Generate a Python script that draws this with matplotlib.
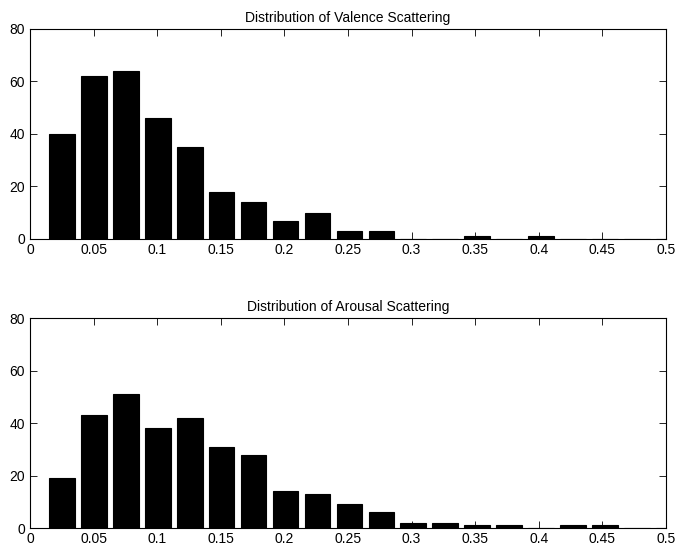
import numpy as np
import matplotlib
matplotlib.use("Agg")
import matplotlib.pyplot as plt

plt.rcParams['font.family'] = ['Liberation Sans', 'DejaVu Sans']

# bin centres of the 20-bin histograms
bin_centers = [0.0252, 0.0503, 0.0754, 0.1005, 0.1256, 0.1507, 0.1758, 0.2009,
               0.2260, 0.2511, 0.2762, 0.3013, 0.3264, 0.3515, 0.3766, 0.4017,
               0.4268, 0.4519, 0.4770, 0.5021]
bin_width = 0.0251

valence_counts = [40, 62, 64, 46, 35, 18, 14, 7, 10, 3, 3, 0, 0, 1, 0, 1, 0, 0, 0, 0]
arousal_counts = [19, 43, 51, 38, 42, 31, 28, 14, 13, 9, 6, 2, 2, 1, 1, 0, 1, 1, 0, 0]

titles = ["Distribution of Valence Scattering", "Distribution of Arousal Scattering"]
x_ticks = [0, 0.05, 0.1, 0.15, 0.2, 0.25, 0.3, 0.35, 0.4, 0.45, 0.5]
x_labels = ["0", "0.05", "0.1", "0.15", "0.2", "0.25", "0.3", "0.35", "0.4", "0.45", "0.5"]
y_ticks = [0, 20, 40, 60, 80]

fig = plt.figure(figsize=(6.76, 5.5), dpi=100)
ax1 = fig.add_axes([0.0444, 0.5655, 0.9408, 0.3818])
ax2 = fig.add_axes([0.0444, 0.04, 0.9408, 0.3818])

for ax, counts, title in zip([ax1, ax2], [valence_counts, arousal_counts], titles):
    ax.bar(bin_centers, counts, width=0.8 * bin_width, color='black',
           edgecolor='black', linewidth=0.8, zorder=2)
    ax.set_xlim(0, 0.5)
    ax.set_ylim(0, 80)
    ax.set_xticks(x_ticks)
    ax.set_xticklabels(x_labels)
    ax.set_yticks(y_ticks)
    ax.tick_params(direction='in', top=True, right=True, length=5, width=0.6,
                   labelsize=10)
    ax.tick_params(axis='x', pad=3)
    ax.tick_params(axis='y', pad=3.5)
    for s in ax.spines.values():
        s.set_linewidth(0.8)
    ax.set_title(title, fontsize=10, pad=5)

fig.savefig("out.png", dpi=100)
